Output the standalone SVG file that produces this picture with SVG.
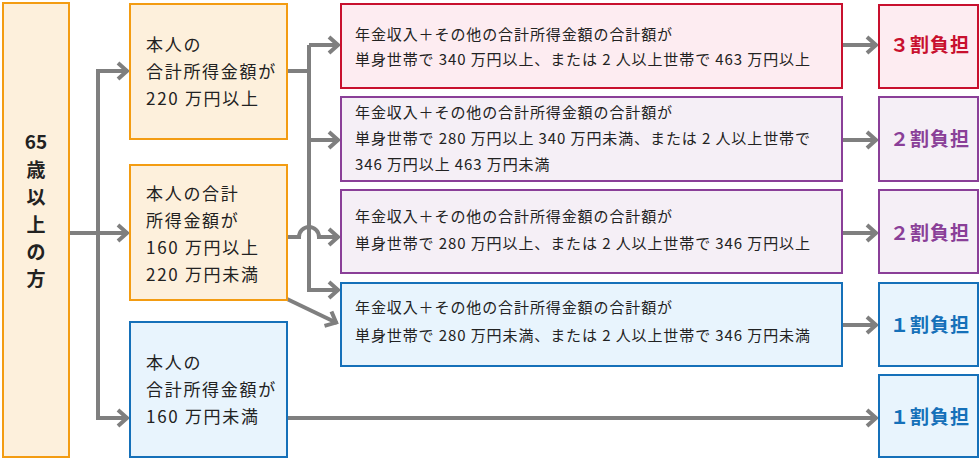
<svg xmlns="http://www.w3.org/2000/svg" width="980" height="460" viewBox="0 0 980 460">
<defs>
<style>
text{font-family:"Noto Sans CJK JP","Noto Sans",sans-serif;fill:#222}
.n{font-size:17px;letter-spacing:1.7px}
.b{font-size:15px;letter-spacing:0.9px}
.r{font-size:19px;font-weight:bold;letter-spacing:1px;text-anchor:middle}
.l{font-size:19px;font-weight:bold;text-anchor:middle}
.or{fill:#fdf0dc;stroke:#f39c12;stroke-width:2}
.rd{fill:#fdecf1;stroke:#c8102e;stroke-width:2}
.pu{fill:#f5eff6;stroke:#8a3f98;stroke-width:2}
.bl{fill:#e8f4fd;stroke:#1570b9;stroke-width:2}
.c{fill:none;stroke:#7f7f7f;stroke-width:4}
</style>
<marker id="ah" markerUnits="userSpaceOnUse" markerWidth="24" markerHeight="24" refX="12" refY="12" orient="auto" viewBox="0 0 24 24">
<path d="M2,4 L11,12 L2,20" fill="none" stroke="#7f7f7f" stroke-width="4"/>
</marker>
</defs>
<g id="connectors">
<path class="c" d="M69,233 H98"/>
<path class="c" d="M128,71 H98 V418 H128" marker-end="url(#ah)"/>
<path class="c" d="M98,71 H128" marker-end="url(#ah)"/>
<path class="c" d="M98,233 H128" marker-end="url(#ah)"/>
<path class="c" d="M287,71 H309"/>
<path class="c" d="M309,45 V290 H339" marker-end="url(#ah)"/>
<path class="c" d="M309,45 H339" marker-end="url(#ah)"/>
<path class="c" d="M309,140 H339" marker-end="url(#ah)"/>
<path class="c" d="M287,237 H299 A10,10 0 0 1 319,237 H339" marker-end="url(#ah)"/>
<path class="c" d="M287,299 L337,323" marker-end="url(#ah)"/>
<path class="c" d="M842,45 H877" marker-end="url(#ah)"/>
<path class="c" d="M842,140 H877" marker-end="url(#ah)"/>
<path class="c" d="M842,233 H877" marker-end="url(#ah)"/>
<path class="c" d="M842,325 H877" marker-end="url(#ah)"/>
<path class="c" d="M287,418 H877" marker-end="url(#ah)"/>
</g>
<g id="age">
<rect class="or" x="3" y="3" width="66" height="454"/>
<text class="l" x="36" y="149">65</text>
<text class="l" x="36" y="177">歳</text>
<text class="l" x="36" y="204">以</text>
<text class="l" x="36" y="232">上</text>
<text class="l" x="36" y="259">の</text>
<text class="l" x="36" y="286">方</text>
</g>
<g id="inc220">
<rect class="or" x="130" y="4" width="157" height="135"/>
<text class="n" x="146" y="51">本人の</text>
<text class="n" x="146" y="78">合計所得金額が</text>
<text class="n" x="146" y="105">220 万円以上</text>
</g>
<g id="inc160">
<rect class="or" x="130" y="165" width="157" height="135"/>
<text class="n" x="146" y="200">本人の合計</text>
<text class="n" x="146" y="227">所得金額が</text>
<text class="n" x="146" y="254">160 万円以上</text>
<text class="n" x="146" y="281">220 万円未満</text>
</g>
<g id="incLow">
<rect class="bl" x="130" y="322" width="157" height="135"/>
<text class="n" x="146" y="369">本人の</text>
<text class="n" x="146" y="396">合計所得金額が</text>
<text class="n" x="146" y="423">160 万円未満</text>
</g>
<g id="cond1">
<rect class="rd" x="341" y="4" width="501" height="84"/>
<text class="b" x="355" y="40">年金収入＋その他の合計所得金額の合計額が</text>
<text class="b" x="355" y="65">単身世帯で 340 万円以上、または 2 人以上世帯で 463 万円以上</text>
</g>
<g id="cond2">
<rect class="pu" x="341" y="97" width="501" height="84"/>
<text class="b" x="355" y="118">年金収入＋その他の合計所得金額の合計額が</text>
<text class="b" x="355" y="144">単身世帯で 280 万円以上 340 万円未満、または 2 人以上世帯で</text>
<text class="b" x="355" y="170">346 万円以上 463 万円未満</text>
</g>
<g id="cond3">
<rect class="pu" x="341" y="190" width="501" height="83"/>
<text class="b" x="355" y="222">年金収入＋その他の合計所得金額の合計額が</text>
<text class="b" x="355" y="249">単身世帯で 280 万円以上、または 2 人以上世帯で 346 万円以上</text>
</g>
<g id="cond4">
<rect class="bl" x="341" y="283" width="501" height="83"/>
<text class="b" x="355" y="313">年金収入＋その他の合計所得金額の合計額が</text>
<text class="b" x="355" y="341">単身世帯で 280 万円未満、または 2 人以上世帯で 346 万円未満</text>
</g>
<g id="res3">
<rect class="rd" x="879" y="5" width="99" height="83"/>
<text class="r" x="930" y="52" style="fill:#c8102e">３割負担</text>
</g>
<g id="res2a">
<rect class="pu" x="879" y="97" width="99" height="84"/>
<text class="r" x="930" y="146" style="fill:#8a3f98">２割負担</text>
</g>
<g id="res2b">
<rect class="pu" x="879" y="190" width="99" height="83"/>
<text class="r" x="930" y="240" style="fill:#8a3f98">２割負担</text>
</g>
<g id="res1a">
<rect class="bl" x="879" y="283" width="99" height="83"/>
<text class="r" x="930" y="332" style="fill:#1570b9">１割負担</text>
</g>
<g id="res1b">
<rect class="bl" x="879" y="375" width="99" height="82"/>
<text class="r" x="930" y="424" style="fill:#1570b9">１割負担</text>
</g>
</svg>
